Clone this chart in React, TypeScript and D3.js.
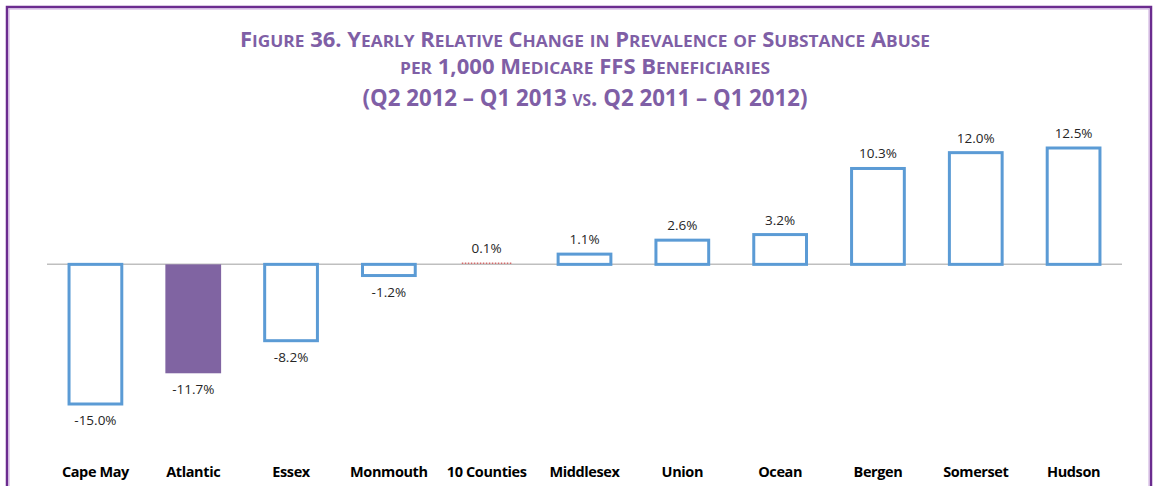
import React from "react";
import * as d3 from "d3";

const categories = ["Cape May", "Atlantic", "Essex", "Monmouth", "10 Counties", "Middlesex", "Union", "Ocean", "Bergen", "Somerset", "Hudson"];
const values = [-15.0, -11.7, -8.2, -1.2, 0.1, 1.1, 2.6, 3.2, 10.3, 12.0, 12.5];
const valueLabels = ["-15.0%", "-11.7%", "-8.2%", "-1.2%", "0.1%", "1.1%", "2.6%", "3.2%", "10.3%", "12.0%", "12.5%"];
const highlighted = ["Atlantic"];
const titleLines = [
  "Figure 36. Yearly Relative Change in Prevalence of Substance Abuse",
  "per 1,000 Medicare FFS Beneficiaries",
  "(Q2 2012 – Q1 2013 vs. Q2 2011 – Q1 2012)",
];

const W = 1155;
const H = 486;

function smallCaps(text: string, big: number, small: number) {
  const runs: { s: string; low: boolean }[] = [];
  for (const ch of text) {
    const low = ch !== ch.toUpperCase();
    const last = runs[runs.length - 1];
    if (last && last.low === low) last.s += ch;
    else runs.push({ s: ch, low });
  }
  return runs.map((r, i) => (
    <tspan key={i} fontSize={r.low ? small : big}>{r.low ? r.s.toUpperCase() : r.s}</tspan>
  ));
}

export default function App() {
  const x = d3.scaleBand<string>().domain(categories).range([47, 1122]).paddingInner(0.43).paddingOuter(0.21);
  const y = d3.scaleLinear().domain([-15, 12.5]).range([404, 148]);
  const y0 = y(0);
  const purple = "#7f5fa6";
  return (
    <div style={{ position: "fixed", left: 0, top: 0, width: W, height: H, background: "#fff" }}>
      <svg width={W} height={H} style={{ display: "block" }}>
        <rect x={0} y={0} width={W} height={H} fill="#fff" />
        {/* frame */}
        <path d={`M7,${H + 5} V7 H1151 V${H + 5}`} fill="none" stroke="#6b2c8f" strokeWidth={2.5} />
        <path d={`M9,${H + 5} V9 H1149 V${H + 5}`} fill="none" stroke="#c9a7dc" strokeWidth={1} />
        {/* title */}
        <g fill={purple} fontFamily="'Open Sans', sans-serif" fontWeight="bold" textAnchor="middle">
          <text x={585} y={47} textLength={690} lengthAdjust="spacingAndGlyphs">{smallCaps(titleLines[0], 21, 16.5)}</text>
          <text x={585} y={74} textLength={370} lengthAdjust="spacingAndGlyphs">{smallCaps(titleLines[1], 21, 16.5)}</text>
          <text x={585} y={106} fontSize={23} textLength={445} lengthAdjust="spacingAndGlyphs" style={{ fontVariant: "small-caps" }}>{titleLines[2]}</text>
        </g>
        {/* zero line */}
        <line x1={47} x2={1122} y1={y0} y2={y0} stroke="#bfbfbf" strokeWidth={1.5} />
        {/* bars */}
        {categories.map((c, i) => {
          const v = values[i];
          const bx = x(c)!;
          const bw = x.bandwidth();
          const top = Math.min(y(v), y0);
          const h = Math.abs(y(v) - y0);
          const isHi = highlighted.includes(c);
          if (isHi) {
            return <rect key={c} x={bx} y={top} width={bw} height={h} fill="#8064a2" />;
          }
          if (Math.abs(v) < 0.5) {
            return <line key={c} x1={bx + 3} x2={bx + bw - 3} y1={y0 - 1} y2={y0 - 1} stroke="#d46a6a" strokeWidth={1.5} strokeDasharray="1.5,1.5" />;
          }
          return <rect key={c} x={bx + 1.5} y={top} width={bw - 3} height={h} fill="#fff" stroke="#5b9bd5" strokeWidth={3} />;
        })}
        {/* value labels */}
        <g fontFamily="'Open Sans', sans-serif" fontSize={13.5} fill="#262626" textAnchor="middle">
          {categories.map((c, i) => {
            const v = values[i];
            const cx = x(c)! + x.bandwidth() / 2;
            const ly = v >= 0 ? y(v) - 10 : y(v) + 21;
            return <text key={c} x={cx} y={ly}>{valueLabels[i]}</text>;
          })}
        </g>
        {/* category labels */}
        <g fontFamily="'Open Sans', sans-serif" fontSize={14.5} fontWeight="bold" fill="#000" textAnchor="middle">
          {categories.map((c) => (
            <text key={c} x={x(c)! + x.bandwidth() / 2} y={477} letterSpacing={-0.4}>{c}</text>
          ))}
        </g>
      </svg>
    </div>
  );
}
